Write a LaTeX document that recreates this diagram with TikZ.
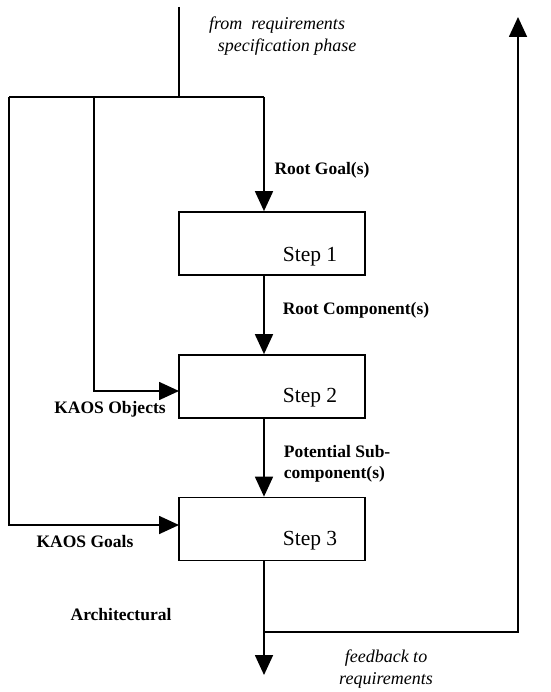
\documentclass[tikz,border=0pt]{standalone}
\usepackage{fontspec}
\setmainfont{Liberation Serif}
\usetikzlibrary{arrows.meta}
\begin{document}
\begin{tikzpicture}[x=1pt,y=-1pt, line width=1.7pt,
 flow/.style={-{Triangle[width=18pt,length=20pt]}},
 stepbox/.style={draw, minimum width=186pt, minimum height=63pt, inner sep=0pt},
 lbl/.style={font=\bfseries\fontsize{17.5}{21}\selectfont, inner sep=0pt},
 ilbl/.style={font=\itshape\fontsize{18}{22}\selectfont, inner sep=0pt, align=center},
 steptxt/.style={font=\fontsize{21.5}{24}\selectfont, inner sep=0pt}]
\useasboundingbox (0,0) rectangle (550,692);
% boxes
\node[stepbox] (s1) at (272,243.5) {};
\node[stepbox] (s2) at (272,386.5) {};
\node[stepbox] (s3) at (272,529) {};
\node[steptxt] (t1) at (310,257) {Step 1};
\node[steptxt] (t2) at (310,398) {Step 2};
\node[steptxt] (t3) at (310,541) {Step 3};
% junction coordinates
\coordinate (top) at (179,7);
\coordinate (j) at (179,97);
\coordinate (jl) at (9,97);
\coordinate (jm) at (94,97);
\coordinate (jr) at (264,97);
\coordinate (obj) at (179,391);
\coordinate (gls) at (179,525);
\coordinate (out) at (264,675);
\coordinate (fb) at (264,632);
\coordinate (fbtop) at (518,17);
% connectors
\draw (top) -- (j);
\draw (jl) -- (jr);
\draw[flow] (jr) -- (jr |- s1.north);
\draw[flow] (jm) |- (obj);
\draw[flow] (jl) |- (gls);
\draw[flow] (jr |- s1.south) -- (jr |- s2.north);
\draw[flow] (jr |- s2.south) -- (jr |- s3.north);
\draw[flow] (jr |- s3.south) -- (out);
\draw[flow] (fb) -| (fbtop);
% labels
\node[ilbl] (l1) at (277,25) {from\ \ requirements};
\node[ilbl] (l2) at (287,47) {specification phase};
\node[lbl] (l3) at (322,170) {Root Goal(s)};
\node[lbl] (l4) at (356,310) {Root Component(s)};
\node[lbl] (l5) at (110,409) {KAOS Objects};
\node[lbl, align=left, anchor=west] (l6) at (283,464) {Potential Sub-\\component(s)};
\node[lbl] (l7) at (85,542) {KAOS Goals};
\node[lbl] (l8) at (121,615) {Architectural};
\node[ilbl] (l9) at (386,669) {feedback to\\requirements};
\end{tikzpicture}
\end{document}
